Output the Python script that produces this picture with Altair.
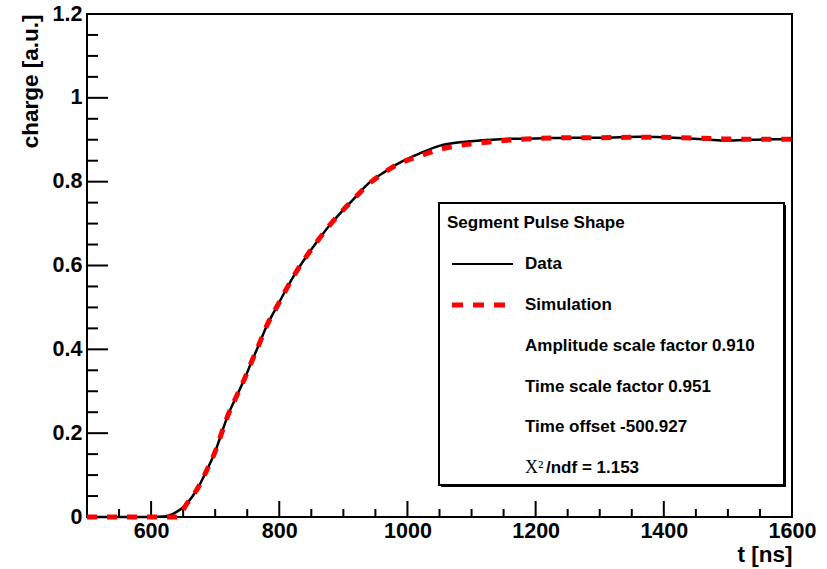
import altair as alt
import pandas as pd

# ---------------- data ----------------
t_data = [500, 600, 620, 635, 645, 655, 665, 674, 687, 700, 710, 720, 733, 745, 757,
          769, 781, 795, 809, 825, 842, 859, 877, 897, 917, 940, 965, 991, 1020, 1051,
          1082, 1113, 1150, 1200, 1259, 1300, 1363, 1425, 1460, 1493, 1530, 1570, 1600]
q_data = [0.0, 0.0, 0.001, 0.008, 0.017, 0.031, 0.050, 0.072, 0.112, 0.156, 0.200, 0.243,
          0.287, 0.327, 0.371, 0.414, 0.458, 0.498, 0.538, 0.581, 0.621, 0.657, 0.693,
          0.728, 0.760, 0.797, 0.824, 0.848, 0.868, 0.886, 0.894, 0.898, 0.902,
          0.903, 0.905, 0.905, 0.907, 0.904, 0.901, 0.898, 0.900, 0.901, 0.901]

t_sim = [500, 640, 648, 655, 665, 674, 687, 700, 710, 720, 733, 745, 757, 769, 781, 795,
         809, 825, 842, 859, 877, 897, 917, 940, 962, 988, 1017, 1048, 1079, 1111, 1142,
         1200, 1260, 1300, 1363, 1425, 1493, 1550, 1600]
q_sim = [0.0, 0.0, 0.012, 0.030, 0.050, 0.072, 0.112, 0.156, 0.200, 0.243, 0.287, 0.327,
         0.371, 0.414, 0.458, 0.498, 0.538, 0.581, 0.621, 0.657, 0.693, 0.728, 0.760,
         0.795, 0.820, 0.844, 0.860, 0.876, 0.886, 0.892, 0.897, 0.903, 0.905, 0.905,
         0.906, 0.905, 0.902, 0.901, 0.901]

x_labels = [600, 800, 1000, 1200, 1400, 1600]
x_major = [500, 600, 800, 1000, 1200, 1400, 1600]
x_minor = [550, 650, 700, 750, 850, 900, 950, 1050, 1100, 1150, 1250, 1300, 1350,
           1450, 1500, 1550]
y_major = [0, 0.2, 0.4, 0.6, 0.8, 1.0, 1.2]
y_minor = [0.05, 0.1, 0.15, 0.25, 0.3, 0.35, 0.45, 0.5, 0.55, 0.65, 0.7, 0.75,
           0.85, 0.9, 0.95, 1.05, 1.1, 1.15]

legend_title = "Segment Pulse Shape"
legend_data = "Data"
legend_sim = "Simulation"
legend_info = ["Amplitude scale factor 0.910", "Time scale factor 0.951",
               "Time offset -500.927"]
chi_symbol = "Χ²"
chi_rest = "/ndf = 1.153"

# ---------------- layout ----------------
W, H = 705, 503
FONT = "Liberation Sans"
RED = "#ff0000"

xs = alt.Scale(domain=[500, 1600], nice=False, zero=False)
ys = alt.Scale(domain=[0, 1.2], nice=False, zero=False)

xax = alt.Axis(values=x_labels, format="d", domain=False, ticks=False, grid=False,
               labelFont=FONT, labelFontSize=21.5, labelFontWeight="bold",
               labelColor="black", labelPadding=3, labelFlush=False, labelOverlap=False,
               title="t [ns]", titleFont=FONT, titleFontSize=22.5, titleFontWeight="bold",
               titleColor="black", titleAnchor="end", titleAlign="right",
               titleBaseline="alphabetic", titleX=W, titleY=44)
yax = alt.Axis(values=y_major, format="~g", domain=False, ticks=False, grid=False,
               labelFont=FONT, labelFontSize=21.5, labelFontWeight="bold",
               labelColor="black", labelPadding=5, labelOverlap=False,
               title="charge [a.u.]", titleFont=FONT, titleFontSize=22.5,
               titleFontWeight="bold", titleColor="black", titleAngle=270,
               titleAlign="right", titleBaseline="middle", titleX=-57, titleY=0)

df_data = pd.DataFrame({"t": t_data, "q": q_data})
df_sim = pd.DataFrame({"t": t_sim, "q": q_sim})
one = pd.DataFrame({"a": [0]})

layers = []

line_data = alt.Chart(df_data).mark_line(color="black", strokeWidth=2.5, interpolate="monotone").encode(
    x=alt.X("t:Q", scale=xs, axis=xax), y=alt.Y("q:Q", scale=ys, axis=yax))
line_sim = alt.Chart(df_sim).mark_line(color=RED, strokeWidth=5, strokeDash=[10, 10],
                                       strokeCap="butt", interpolate="monotone").encode(
    x=alt.X("t:Q", scale=xs), y=alt.Y("q:Q", scale=ys))
layers.append(line_data)


# ticks (inside the frame)
def xticks(vals, length):
    return alt.Chart(pd.DataFrame({"t": vals})).mark_rule(color="black", strokeWidth=2).encode(
        x=alt.X("t:Q", scale=xs), y=alt.value(H), y2=alt.value(H - length))


def yticks(vals, length):
    return alt.Chart(pd.DataFrame({"q": vals})).mark_rule(color="black", strokeWidth=2).encode(
        y=alt.Y("q:Q", scale=ys), x=alt.value(0), x2=alt.value(length))


layers += [xticks(x_major, 16), xticks(x_minor, 8), yticks(y_major, 21), yticks(y_minor, 11)]
layers.append(line_sim)

# legend box with shadow
LX0, LX1, LY0, LY1 = 352, 697, 189, 471
shadow = alt.Chart(one).mark_rect(color="black").encode(
    x=alt.value(LX0 + 2), x2=alt.value(LX1 + 2), y=alt.value(LY0 + 2), y2=alt.value(LY1 + 2))
box = alt.Chart(one).mark_rect(fill="white", stroke="black", strokeWidth=2).encode(
    x=alt.value(LX0), x2=alt.value(LX1), y=alt.value(LY0), y2=alt.value(LY1))
layers += [shadow, box]

row_y = [208.7, 250, 291, 331.5, 372.5, 412.5, 454]
TX = 438


def txt(s, x, y, font=FONT, weight="bold", size=17):
    return alt.Chart(one).mark_text(text=s, align="left", baseline="middle", font=font,
                                    fontWeight=weight, fontSize=size, color="black").encode(
        x=alt.value(x), y=alt.value(y))


layers.append(txt(legend_title, 360, row_y[0]))
layers.append(alt.Chart(one).mark_rule(color="black", strokeWidth=2).encode(
    x=alt.value(365), x2=alt.value(426), y=alt.value(row_y[1])))
layers.append(txt(legend_data, TX, row_y[1]))
layers.append(alt.Chart(one).mark_rule(color=RED, strokeWidth=5, strokeDash=[11, 10],
                                       strokeCap="butt").encode(
    x=alt.value(365), x2=alt.value(426), y=alt.value(row_y[2])))
layers.append(txt(legend_sim, TX, row_y[2]))
for s, yy in zip(legend_info, row_y[3:6]):
    layers.append(txt(s, TX, yy))
layers.append(txt(chi_symbol, TX, row_y[6], font="Liberation Serif", weight="normal", size=18))
layers.append(txt(chi_rest, 459, row_y[6]))

chart = alt.layer(*layers).properties(
    width=W, height=H,
    padding={"left": 87, "top": 14, "right": 35, "bottom": 52},
    autosize=alt.AutoSizeParams(type="none"),
    background="white",
).configure_view(stroke="black", strokeWidth=2)

chart.save("out.html", embed_options={"renderer": "svg", "actions": False})
